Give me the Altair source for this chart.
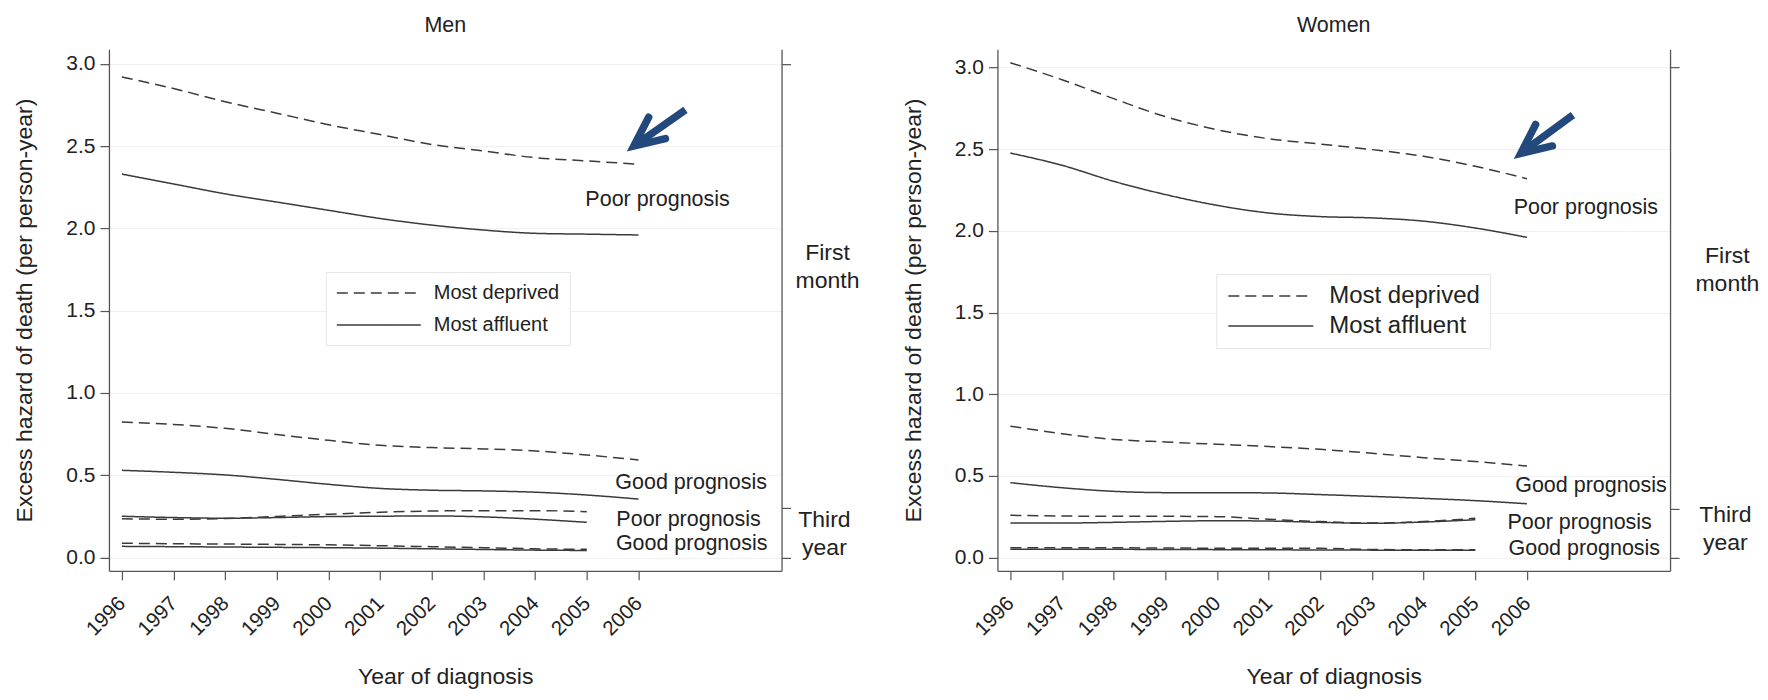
import altair as alt
import pandas as pd

FONT = "Liberation Sans, Arial, Helvetica, sans-serif"
LINE_COLOR = "#3a3a3a"
ARROW_COLOR = "#23497c"

years_fm = [1996, 1997, 1998, 1999, 2000, 2001, 2002, 2003, 2004, 2005, 2006]
years_ty = [1996, 1997, 1998, 1999, 2000, 2001, 2002, 2003, 2004, 2005]
y_ticks = [0.0, 0.5, 1.0, 1.5, 2.0, 2.5, 3.0]
bracket_ticks = [0.0, 0.3, 3.0]
dep_levels = ["Most deprived", "Most affluent"]

# ---- Men ----
men_poor_fm_dep = [2.92, 2.85, 2.77, 2.70, 2.63, 2.57, 2.51, 2.47, 2.43, 2.41, 2.39]
men_poor_fm_aff = [2.33, 2.27, 2.21, 2.16, 2.11, 2.06, 2.02, 1.99, 1.97, 1.965, 1.96]
men_good_fm_dep = [0.823, 0.809, 0.785, 0.748, 0.712, 0.682, 0.668, 0.66, 0.648, 0.623, 0.593]
men_good_fm_aff = [0.53, 0.518, 0.502, 0.475, 0.445, 0.42, 0.409, 0.405, 0.397, 0.38, 0.355]
men_poor_ty_dep = [0.235, 0.233, 0.237, 0.25, 0.263, 0.275, 0.283, 0.285, 0.285, 0.279]
men_poor_ty_aff = [0.251, 0.243, 0.239, 0.243, 0.249, 0.251, 0.253, 0.247, 0.233, 0.214]
men_good_ty_dep = [0.087, 0.084, 0.082, 0.08, 0.077, 0.072, 0.066, 0.06, 0.053, 0.05]
men_good_ty_aff = [0.068, 0.066, 0.064, 0.062, 0.06, 0.057, 0.053, 0.049, 0.045, 0.043]

# ---- Women ----
wom_poor_fm_dep = [3.03, 2.926, 2.81, 2.70, 2.62, 2.565, 2.532, 2.498, 2.457, 2.396, 2.32]
wom_poor_fm_aff = [2.477, 2.402, 2.304, 2.223, 2.157, 2.11, 2.088, 2.08, 2.06, 2.018, 1.961]
wom_good_fm_dep = [0.805, 0.759, 0.724, 0.708, 0.694, 0.68, 0.663, 0.639, 0.612, 0.588, 0.561]
wom_good_fm_aff = [0.459, 0.428, 0.406, 0.398, 0.398, 0.396, 0.386, 0.375, 0.363, 0.349, 0.33]
wom_poor_ty_dep = [0.259, 0.255, 0.253, 0.253, 0.251, 0.235, 0.221, 0.212, 0.221, 0.241]
wom_poor_ty_aff = [0.212, 0.212, 0.216, 0.222, 0.226, 0.224, 0.216, 0.21, 0.218, 0.232]
wom_good_ty_dep = [0.06, 0.06, 0.06, 0.059, 0.058, 0.058, 0.057, 0.05, 0.048, 0.048]
wom_good_ty_aff = [0.052, 0.052, 0.051, 0.05, 0.049, 0.048, 0.047, 0.046, 0.045, 0.045]

# annotation labels (text, year, value)
ann_labels = ["Poor prognosis", "Good prognosis", "Poor prognosis", "Good prognosis"]
men_ann_x = [2006.37, 2007.02, 2006.97, 2007.03]
men_ann_y = [2.175, 0.455, 0.229, 0.083]
wom_ann_x = [2007.14, 2007.24, 2007.02, 2007.11]
wom_ann_y = [2.14, 0.44, 0.21, 0.05]

side_labels = ["First\nmonth", "Third\nyear"]
men_side_x = [2009.66, 2009.6]
men_side_y = [1.85, 0.23]
wom_side_x = [2009.88, 2009.84]
wom_side_y = [1.845, 0.26]

# arrows: tail (x, y) -> head point (x, y)
men_arrow = [2006.91, 2.72, 2005.91, 2.50]
wom_arrow = [2006.89, 2.71, 2005.88, 2.475]

X_DOMAIN = [1995.75, 2008.77]


def make_panel(title, series, y_domain, ann_x, ann_y, side_x, side_y, arrow,
               legend_font, legend_x, legend_y, legend_len, legend_gap, legend_row):
    rows = []
    for key, dep, years, vals in series:
        for yr, v in zip(years, vals):
            rows.append({"year": yr, "value": v, "dep": dep, "grp": key})
    df = pd.DataFrame(rows)

    xs = alt.Scale(domain=X_DOMAIN, nice=False, zero=False)
    ys = alt.Scale(domain=y_domain, nice=False, zero=False)

    x_axis = alt.Axis(values=years_fm, format="d", labelAngle=-45, labelAlign="right",
                      labelBaseline="top", labelFontSize=20.5, labelPadding=13,
                      labelOffset=-7, tickSize=9, grid=False,
                      title="Year of diagnosis", titleFontSize=23, titlePadding=26)
    y_axis = alt.Axis(values=y_ticks, format=".1f", labelFontSize=21, tickSize=9,
                      labelPadding=5, grid=True, gridColor="#efefef",
                      title="Excess hazard of death (per person-year)",
                      titleFontSize=23, titlePadding=29)

    sym_path = "M-1,0H%.2f" % (legend_len / 10.0 - 1)
    lines = alt.Chart(df).mark_line(color=LINE_COLOR, strokeWidth=1.5,
                                    interpolate="monotone").encode(
        x=alt.X("year:Q", scale=xs, axis=x_axis),
        y=alt.Y("value:Q", scale=ys, axis=y_axis),
        detail="grp:N",
        strokeDash=alt.StrokeDash(
            "dep:N",
            scale=alt.Scale(domain=dep_levels, range=[[11, 6], [1, 0]]),
            legend=alt.Legend(title=None, orient="none", legendX=legend_x,
                              legendY=legend_y, symbolType=sym_path,
                              symbolSize=400, symbolStrokeWidth=1.5,
                              symbolStrokeColor=LINE_COLOR,
                              labelFontSize=legend_font, labelFont=FONT,
                              labelColor="#222",
                              labelOffset=legend_len - 21 + legend_gap,
                              rowPadding=legend_row, padding=10,
                              strokeColor="#e6e6e6", fillColor="white"),
        ),
    )

    ann_df = pd.DataFrame({"x": ann_x, "y": ann_y, "label": ann_labels})
    ann = alt.Chart(ann_df).mark_text(fontSize=21.5, font=FONT, color="#222",
                                      align="center", baseline="middle").encode(
        x=alt.X("x:Q", scale=xs), y=alt.Y("y:Q", scale=ys), text="label:N")

    side_df = pd.DataFrame({"x": side_x, "y": side_y, "label": side_labels})
    side = alt.Chart(side_df).mark_text(fontSize=23, font=FONT, color="#222",
                                        align="center", baseline="middle",
                                        lineBreak="\n", lineHeight=28,
                                        clip=False).encode(
        x=alt.X("x:Q", scale=xs), y=alt.Y("y:Q", scale=ys), text="label:N")

    tx, ty, hx, hy = arrow
    sx = hx + (tx - hx) * 0.1
    sy = hy + (ty - hy) * 0.1
    arr_df = pd.DataFrame({"x": [tx], "y": [ty], "x2": [sx], "y2": [sy],
                           "hx": [hx], "hy": [hy]})
    shaft = alt.Chart(arr_df).mark_rule(color=ARROW_COLOR, strokeWidth=7.5,
                                        strokeCap="butt").encode(
        x=alt.X("x:Q", scale=xs), y=alt.Y("y:Q", scale=ys),
        x2="x2:Q", y2="y2:Q")
    head = alt.Chart(arr_df).mark_point(
        shape="M-0.42,0.91L0,0L0.42,0.91", size=4200, filled=False,
        stroke=ARROW_COLOR, strokeWidth=7.5, strokeJoin="miter", strokeCap="round",
        angle=232, opacity=1).encode(
        x=alt.X("hx:Q", scale=xs), y=alt.Y("hy:Q", scale=ys))

    main = alt.layer(lines, ann, side, shaft, head)

    br_df = pd.DataFrame({"v": bracket_ticks, "year": [1996, 1996, 1996]})
    right_axis = alt.Chart(br_df).mark_point(opacity=0).encode(
        x=alt.X("year:Q", scale=xs),
        y=alt.Y("v:Q", scale=ys,
                axis=alt.Axis(orient="right", values=bracket_ticks, labels=False,
                              grid=False, tickSize=9, title=None, domain=True)))

    return alt.layer(main, right_axis).resolve_scale(y="independent").properties(
        width=673, height=522,
        title=alt.TitleParams(title, fontSize=21.5, font=FONT, fontWeight="normal",
                              anchor="middle", offset=13, color="#222"))


men_series = [
    ("pfd", "Most deprived", years_fm, men_poor_fm_dep),
    ("pfa", "Most affluent", years_fm, men_poor_fm_aff),
    ("gfd", "Most deprived", years_fm, men_good_fm_dep),
    ("gfa", "Most affluent", years_fm, men_good_fm_aff),
    ("ptd", "Most deprived", years_ty, men_poor_ty_dep),
    ("pta", "Most affluent", years_ty, men_poor_ty_aff),
    ("gtd", "Most deprived", years_ty, men_good_ty_dep),
    ("gta", "Most affluent", years_ty, men_good_ty_aff),
]
wom_series = [
    ("pfd", "Most deprived", years_fm, wom_poor_fm_dep),
    ("pfa", "Most affluent", years_fm, wom_poor_fm_aff),
    ("gfd", "Most deprived", years_fm, wom_good_fm_dep),
    ("gfa", "Most affluent", years_fm, wom_good_fm_aff),
    ("ptd", "Most deprived", years_ty, wom_poor_ty_dep),
    ("pta", "Most affluent", years_ty, wom_poor_ty_aff),
    ("gtd", "Most deprived", years_ty, wom_good_ty_dep),
    ("gta", "Most affluent", years_ty, wom_good_ty_aff),
]

left = make_panel("Men", men_series, [-0.081, 3.089], men_ann_x, men_ann_y,
                  men_side_x, men_side_y, men_arrow, 20, 217, 223, 84, 13, 11)
right = make_panel("Women", wom_series, [-0.081, 3.113], wom_ann_x, wom_ann_y,
                   wom_side_x, wom_side_y, wom_arrow, 24, 219, 225, 85, 15, 6)

chart = alt.hconcat(left, right, spacing=216, bounds="flush").resolve_legend(
    strokeDash="independent"
).properties(
    padding={"left": 5, "top": 6, "right": 0, "bottom": 0}
).configure_view(stroke=None).configure_axis(
    labelFont=FONT, titleFont=FONT, labelColor="#222", titleColor="#222",
    domainColor="#555", domainWidth=1.3, tickColor="#555", tickWidth=1.2,
    titleFontWeight="normal"
).configure_legend(labelFont=FONT)

chart.save("out.html", embed_options={"renderer": "svg", "actions": False})
